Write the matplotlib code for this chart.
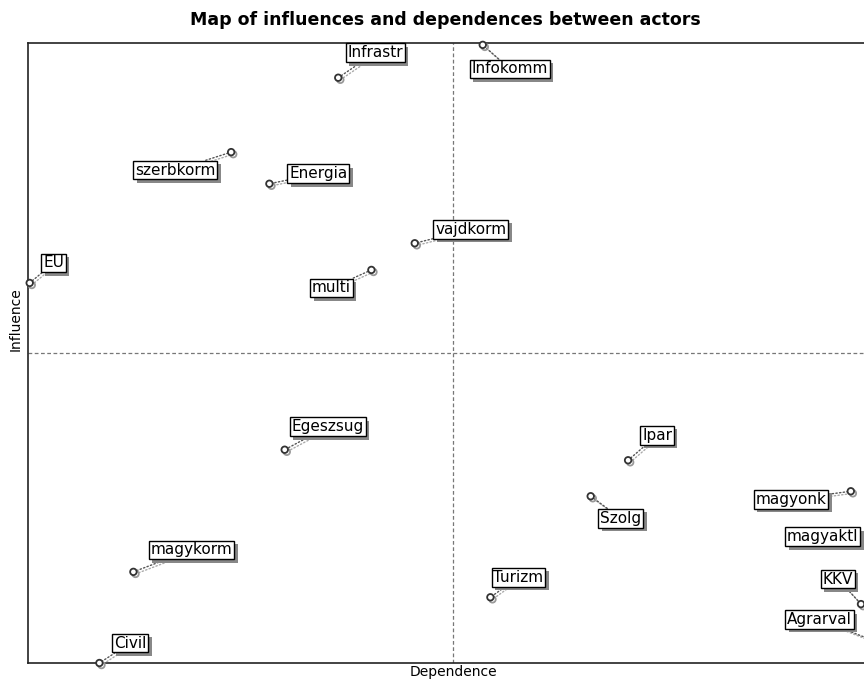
import numpy as np
import matplotlib
matplotlib.use("Agg")
import matplotlib.pyplot as plt
import matplotlib.patheffects as pe

# actors: dependence (x) and influence (y), 0..100 scale
actors = ["Infrastr", "Infokomm", "szerbkorm", "Energia", "vajdkorm", "EU", "multi",
          "Egeszsug", "Ipar", "Szolg", "magyonk", "magyaktl", "KKV", "Agrarval",
          "Turizm", "magykorm", "Civil"]
dependence = [36.5, 53.5, 23.9, 28.4, 45.5, 0.2, 40.4,
              30.2, 70.6, 66.2, 96.8, 101.5, 98.0, 101.5,
              54.4, 12.4, 8.4]
influence = [94.4, 99.7, 82.4, 77.3, 67.7, 61.3, 63.4,
             34.4, 32.7, 26.9, 27.7, 21.5, 9.5, 2.5,
             10.6, 14.7, 0.0]

# label offsets in pixels (layout only)
offsets = [(37, 25), (27, -24), (-56, -18), (49, 10), (56, 14), (24, 20), (-40, -18),
           (43, 23), (29, 25), (30, -22), (-60, -8), (-68, -7), (-23, 25), (-71, 28),
           (28, 20), (58, 22), (31, 20)]

W, H = 864, 679
fig = plt.figure(figsize=(W / 100, H / 100), dpi=100)
# plot area: left 28px, top 43px, bottom 663px, right edge beyond image (878px)
ax = fig.add_axes([28 / W, (H - 663) / H, (878 - 28) / W, (663 - 43) / H])
ax.set_xlim(0, 100)
ax.set_ylim(0, 100)
ax.set_xticks([])
ax.set_yticks([])
for s in ax.spines.values():
    s.set_linewidth(1.2)
    s.set_color("#222222")

ax.axvline(50, color="#777777", lw=0.9, ls=(0, (3, 2)))
ax.axhline(50, color="#777777", lw=0.9, ls=(0, (3, 2)))

shadow = [pe.withSimplePatchShadow(offset=(2.5, -2.5), shadow_rgbFace="#888888", alpha=1)]

for name, x, y, off in zip(actors, dependence, influence, offsets):
    ann = ax.annotate(name, xy=(x, y), xytext=off, textcoords="offset pixels",
                      ha="center", va="center", fontsize=11, family="DejaVu Sans",
                      annotation_clip=False, zorder=5,
                      bbox=dict(boxstyle="square,pad=0.12", fc="white", ec="black", lw=1),
                      arrowprops=dict(arrowstyle="-", color="#555555", lw=1, ls=":",
                                      shrinkA=0, shrinkB=2,
                                      path_effects=[pe.SimpleLineShadow(offset=(1.5, -1.5), shadow_color="#aaaaaa", alpha=1), pe.Normal()]))
    ann.get_bbox_patch().set_path_effects(shadow)

ax.scatter(dependence, influence, s=22, facecolor="white", edgecolor="#333333",
           linewidth=1.3, zorder=6, clip_on=False,
           path_effects=[pe.SimpleLineShadow(offset=(1.5, -1.5), shadow_color="#999999", alpha=1), pe.Normal()])

fig.text(445 / W, 1 - 20 / H, "Map of influences and dependences between actors",
         ha="center", va="center", fontsize=12.5, fontweight="bold")
fig.text(453 / W, 1 - 672 / H, "Dependence", ha="center", va="center", fontsize=10)
fig.text(16 / W, 1 - 319 / H, "Influence", ha="center", va="center", fontsize=10, rotation=90)

fig.savefig("out.png", dpi=100)
